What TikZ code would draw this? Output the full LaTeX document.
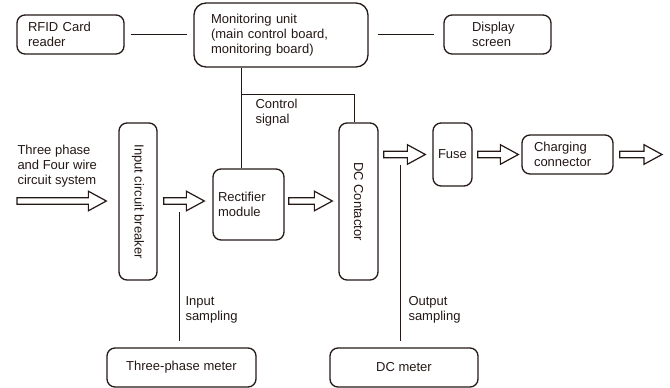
\documentclass[tikz,border=0pt]{standalone}
\usepackage{fontspec}
\setmainfont{Liberation Sans}
\usetikzlibrary{calc}
\definecolor{ink}{RGB}{35,24,21}

\begin{document}
\begin{tikzpicture}[x = 1pt, y = -1pt, color = ink, line width = 1pt,
    font = \fontsize{13}{15}\selectfont,
    block/.style = {draw, line width = 1.3pt, rounded corners = 8pt, inner ysep = 0pt, align = left},
    tag/.style = {anchor = west, inner sep = 0pt, align = left},
    flow/.style = {draw, line width = 1.2pt, to path = {let \p1 = (\tikztostart), \p2 = (\tikztotarget) in
        (\x1, \y1 - 3.2pt) -- (\x2 - 18pt, \y1 - 3.2pt) -- (\x2 - 18pt, \y1 - 9.8pt) -- (\x2, \y1)
        -- (\x2 - 18pt, \y1 + 9.8pt) -- (\x2 - 18pt, \y1 + 3.2pt) -- (\x1, \y1 + 3.2pt) -- cycle}}]
        \useasboundingbox (0, 0) rectangle (670, 388);

        \node[block, minimum width = 107pt, minimum height = 39pt, inner xsep = 11pt, text width = 85pt] (rfid_reader) at (70.5, 34.5) {RFID Card \\ reader};
        \node[block, rounded corners = 12pt, minimum width = 174pt, minimum height = 64pt, inner xsep = 17pt, text width = 140pt] (monitoring_unit) at (281, 35) {Monitoring unit \\ (main control board, \\ monitoring board)};
        \node[block, minimum width = 107pt, minimum height = 39pt, inner xsep = 28pt, text width = 51pt] (display_screen) at (497.5, 34.5) {Display \\ screen};
        \node[block, rotate = -90, minimum width = 157pt, minimum height = 38pt, align = center] (input_breaker) at (138, 201.5) {Input circuit breaker};
        \node[block, minimum width = 71pt, minimum height = 71pt, inner xsep = 5pt, text width = 61pt] (rectifier) at (248.5, 204.5) {Rectifier \\ module};
        \node[block, rotate = -90, minimum width = 157pt, minimum height = 39pt, align = center] (dc_contactor) at (358.5, 201.5) {DC Contactor};
        \node[block, minimum width = 39pt, minimum height = 63pt, inner xsep = 0pt, align = center] (fuse) at (452.5, 154.5) {Fuse};
        \node[block, minimum width = 91pt, minimum height = 39pt, inner xsep = 12pt, text width = 67pt] (charging_connector) at (567.5, 154.5) {Charging \\ connector};
        \node[block, minimum width = 149pt, minimum height = 39pt, align = center] (three_phase_meter) at (181.5, 367.5) {Three-phase meter};
        \node[block, minimum width = 148pt, minimum height = 39pt, align = center] (dc_meter) at (404, 367.5) {DC meter};

        \node[tag] (supply_label) at (17, 166.5) {Three phase \\ and Four wire \\ circuit system};
        \node[tag] (control_label) at (255, 113) {Control \\ signal};
        \node[tag] (input_label) at (185, 309.5) {Input \\ sampling};
        \node[tag] (output_label) at (408, 309.5) {Output \\ sampling};

        \coordinate (control_tap) at ($(rectifier.north west) + (29, 0)$);
        \coordinate (input_tap) at (179, 212);
        \coordinate (output_tap) at (400, 165);
        \coordinate (flow_in) at (17, 201);
        \coordinate (flow_out) at (662, 154);

        \draw[shorten < = 6pt, shorten > = 6pt] (rfid_reader.east) -- (monitoring_unit.west |- rfid_reader.east);
        \draw[shorten < = 9pt, shorten > = 9pt] (monitoring_unit.east |- display_screen.west) -- (display_screen.west);
        \draw (control_tap |- monitoring_unit.south) -- (control_tap);
        \draw (control_tap |- 0, 94) -| ($(dc_contactor.west) + (-4.5, 0)$);
        \draw[shorten > = 6pt] (input_tap) -- (input_tap |- three_phase_meter.north);
        \draw[shorten > = 6pt] (output_tap) -- (output_tap |- dc_meter.north);

        \draw[flow] (flow_in) to ($(input_breaker.south) + (-12, 0)$);
        \draw[flow] ($(input_breaker.north) + (6, -0.5)$) to ($(rectifier.west) + (-8, 0)$);
        \draw[flow] ($(rectifier.east) + (4, -3.5)$) to ($(dc_contactor.south) + (-6, 0)$);
        \draw[flow] ($(dc_contactor.north |- fuse.west) + (5, 0)$) to ($(fuse.west) + (-7, 0)$);
        \draw[flow] ($(fuse.east) + (5, 0)$) to ($(charging_connector.west) + (-3, 0)$);
        \draw[flow] ($(charging_connector.east) + (6, 0)$) to (flow_out);
      \end{tikzpicture}
\end{document}
